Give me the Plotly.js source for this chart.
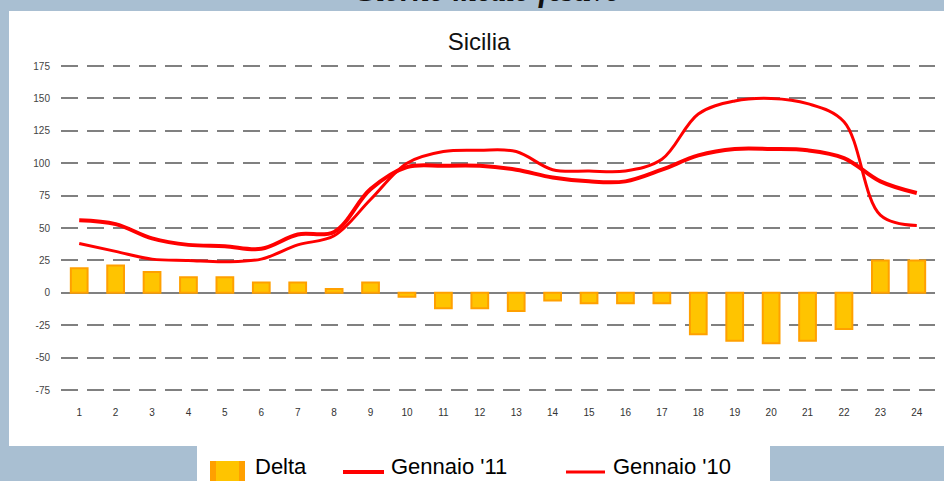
<!DOCTYPE html>
<html>
<head>
<meta charset="utf-8">
<script src="https://cdn.plot.ly/plotly-3.0.1.min.js"></script>
<style>html,body{margin:0;padding:0;background:#a9bfd2;}#chart{width:944px;height:481px;}</style>
</head>
<body>
<div id="chart"></div>
<script>
var hours = ['1','2','3','4','5','6','7','8','9','10','11','12','13','14','15','16','17','18','19','20','21','22','23','24'];
var delta = [19, 21, 16, 12, 12, 8, 8, 3, 8, -3, -12, -12, -14, -6, -8, -8, -8, -32, -37, -39, -37, -28, 25, 25];
var gen11 = [56, 53, 42, 37, 36, 34, 45, 47, 80, 97, 98, 98, 95, 89, 86, 86, 95, 106, 111, 111, 110, 104, 86, 77];
var gen10 = [38, 32, 26, 25, 24, 26, 37, 44, 72, 100, 109, 110, 109, 95, 94, 94, 103, 138, 148, 150, 146, 132, 60, 52];
var yTicks = [-75, -50, -25, 0, 25, 50, 75, 100, 125, 150, 175];
var seriesNames = ['Delta', "Gennaio '11", "Gennaio '10"];

var L = 61, T = 55, W = 874, H = 345;
function px(x){ return (x - L) / W; }
function py(y){ return (T + H - y) / H; }

var traces = [
  {type:'bar', name:seriesNames[0], x:hours, y:delta,
   marker:{color:'#ffc400', line:{color:'#ffa000', width:2}}},
  {type:'scatter', mode:'lines', name:seriesNames[1], x:hours, y:gen11,
   line:{color:'#ff0000', width:4, shape:'spline', smoothing:1}},
  {type:'scatter', mode:'lines', name:seriesNames[2], x:hours, y:gen10,
   line:{color:'#ff0000', width:3, shape:'spline', smoothing:1}}
];

var legendFont = {size:22, color:'#000', family:'Liberation Sans, Arial, sans-serif'};
var shapes = [
  {type:'rect', xref:'paper', yref:'paper', x0:px(9), x1:px(950), y0:py(446), y1:py(11),
   fillcolor:'#ffffff', line:{width:0}, layer:'below'},
  {type:'rect', xref:'paper', yref:'paper', x0:px(197), x1:px(770), y0:py(490), y1:py(446),
   fillcolor:'#ffffff', line:{width:0}, layer:'below'},
  /* legend symbols */
  {type:'rect', xref:'paper', yref:'paper', x0:px(210), x1:px(245), y0:py(485), y1:py(461),
   fillcolor:'#ffa000', line:{width:0}},
  {type:'rect', xref:'paper', yref:'paper', x0:px(216), x1:px(239), y0:py(485), y1:py(461),
   fillcolor:'#ffc400', line:{width:0}},
  {type:'line', xref:'paper', yref:'paper', x0:px(343), x1:px(384), y0:py(472), y1:py(472),
   line:{color:'#ff0000', width:4}},
  {type:'line', xref:'paper', yref:'paper', x0:px(566), x1:px(605), y0:py(472), y1:py(472),
   line:{color:'#ff0000', width:3}}
];

function legendText(i, x){
  return {text:seriesNames[i], xref:'paper', yref:'paper', x:px(x), y:py(466),
          xanchor:'left', yanchor:'middle', showarrow:false, borderpad:0, font:legendFont};
}

var annotations = [
  {text:'<b><i>Giorno medio festivo</i></b>', xref:'paper', yref:'paper', x:px(487), y:py(10),
   xanchor:'center', yanchor:'bottom', showarrow:false,
   font:{family:'Liberation Serif, Times New Roman, serif', size:31, color:'#111'}},
  legendText(0, 254),
  legendText(1, 390),
  legendText(2, 612)
];

var layout = {
  width:944, height:481,
  margin:{l:L, r:944 - L - W, t:T, b:481 - T - H, pad:0, autoexpand:false},
  paper_bgcolor:'#a9bfd2',
  plot_bgcolor:'rgba(0,0,0,0)',
  bargap:0.54,
  font:{family:'Liberation Sans, Arial, sans-serif', color:'#000'},
  title:{text:'Sicilia', font:{size:24, color:'#111', family:'Liberation Sans, Arial, sans-serif'},
         x:px(479), xref:'paper', xanchor:'center', y:1 - 42/481, yanchor:'middle'},
  xaxis:{type:'category', showgrid:false, zeroline:false, showline:false, ticks:'',
         tickfont:{size:10, color:'#333'}, ticklabelstandoff:5, fixedrange:true},
  yaxis:{range:[-82.7, 183.5], tickvals:yTicks, ticktext:yTicks.map(String),
         showgrid:true, gridcolor:'#808080', gridwidth:2, griddash:'17px,9px',
         zeroline:true, zerolinecolor:'#808080', zerolinewidth:2.5,
         showline:false, ticks:'', tickfont:{size:10, color:'#444'}, ticklabelstandoff:10,
         fixedrange:true},
  showlegend:false,
  shapes:shapes,
  annotations:annotations
};

Plotly.newPlot('chart', traces, layout, {displayModeBar:false, staticPlot:true});
</script>
</body>
</html>
